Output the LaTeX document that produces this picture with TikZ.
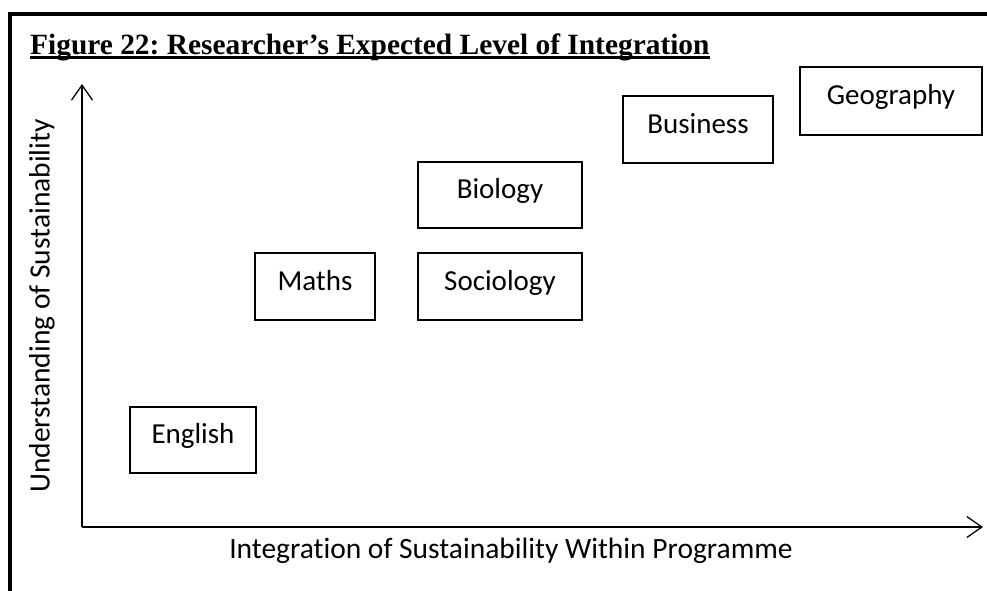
\documentclass[tikz,border=0pt]{standalone}
\usepackage{fontspec}
\setmainfont{Carlito}[Ligatures=NoCommon]
\newfontfamily\titlefont{Liberation Serif}
\usetikzlibrary{arrows.meta}
\frenchspacing
\tikzset{
  subj/.style={draw=black, line width=1.3pt, rectangle, inner sep=0pt, font=\fontsize{29}{34}\selectfont, text height=17pt, text depth=10pt},
  axis/.style={line width=1.3pt, -{Straight Barb[length=15pt,width=21pt,line width=1.3pt]}},
  lbl/.style={font=\fontsize{29.5}{34}\selectfont, inner sep=0pt},
}
\begin{document}
\begin{tikzpicture}[x=1pt,y=-1pt]
\useasboundingbox (0,0) rectangle (987,590);
\clip (0,0) rectangle (987,590);
% frame
\draw[line width=4.5pt] (10,600) -- (10,14) -- (1000,14);
% title
\node[anchor=base west, inner sep=0pt, font=\titlefont\bfseries\fontsize{29.4}{34}\selectfont] (title) at (30,54) {Figure 22: Researcher’s Expected Level of Integration};
\draw[line width=2.2pt] (title.base west) ++(0,3.5) coordinate (ul1) -- (title.base east |- ul1);
% axes
\coordinate (origin) at (82,527);
\coordinate (ytip) at (82,84);
\coordinate (xtip) at (983,527);
\draw[axis] (origin) -- (ytip);
\draw[axis] (origin) -- (xtip);
\node[lbl, rotate=90] (ylab) at (42,306) {Understanding of Sustainability};
\node[lbl, anchor=base] (xlab) at (511,558) {Integration of Sustainability Within Programme};
% subject boxes
\node[subj, minimum width=182pt, minimum height=68pt] (geo) at (891,101) {Geography};
\node[subj, minimum width=150pt, minimum height=67pt] (bus) at (698,129.5) {Business};
\node[subj, minimum width=164pt, minimum height=66pt] (bio) at (500,195) {Biology};
\node[subj, minimum width=164pt, minimum height=67pt] (soc) at (500,286.5) {Sociology};
\node[subj, minimum width=120pt, minimum height=67pt] (math) at (315,286.5) {Maths};
\node[subj, minimum width=126pt, minimum height=66pt] (eng) at (193,440) {English};
\end{tikzpicture}
\end{document}
